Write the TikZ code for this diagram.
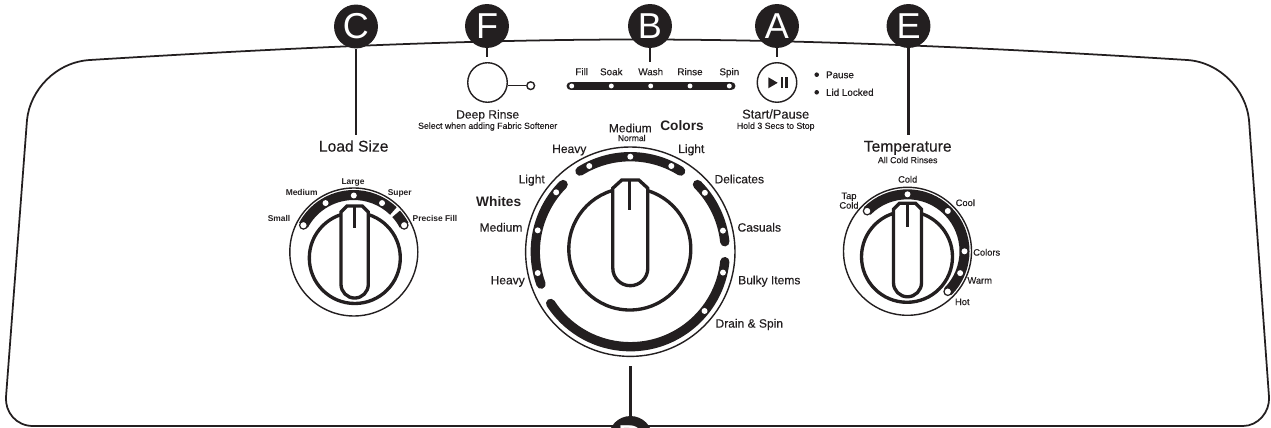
\documentclass[tikz,border=0pt]{standalone}
\usepackage{fontspec}
\setmainfont{Liberation Sans}
\newfontfamily\medfont{Liberation Sans}[RawFeature={embolden=0.35}]
\definecolor{inkblack}{HTML}{231F20}
\tikzset{
  badge/.style={circle, fill=inkblack, text=white, minimum size=25pt, inner sep=0pt, font=\fontsize{20.5}{20.5}\selectfont},
  lead/.style={line width=1.5pt, draw=inkblack},
  ring/.style={line width=0.8pt, draw=inkblack},
  knob/.style={line width=1.9pt, draw=inkblack, fill=white},
  band/.style={line width=5.7pt, draw=inkblack},
  pip/.style={circle, fill=white, inner sep=0pt, minimum size=3.4pt},
  pipo/.style={circle, fill=white, draw=inkblack, line width=0.7pt, inner sep=0pt, minimum size=4.4pt},
  dot/.style={circle, fill=inkblack, inner sep=0pt, minimum size=2.6pt},
  tagbase/.style={text=inkblack, inner sep=0pt, text depth=0pt},
  headtag/.style={tagbase, text height=6.4pt, font=\medfont\fontsize{8.9}{8.9}\selectfont},
  bigtag/.style={tagbase, text height=4.9pt, font=\medfont\fontsize{6.85}{6.85}\selectfont},
  midtag/.style={tagbase, text height=4pt, font=\medfont\fontsize{5.6}{5.6}\selectfont},
  smalltag/.style={tagbase, text height=3.8pt, font=\medfont\fontsize{5.3}{5.3}\selectfont},
  notetag/.style={tagbase, text height=3.6pt, font=\medfont\fontsize{5}{5}\selectfont},
  boldtag/.style={tagbase, text height=5.6pt, font=\bfseries\fontsize{7.8}{7.8}\selectfont},
  tinytag/.style={tagbase, text height=3.5pt, font=\bfseries\fontsize{4.8}{4.8}\selectfont},
}
\begin{document}
\begin{tikzpicture}[x=0.02cm, y=-0.02cm]
\useasboundingbox (0,0) rectangle (1271,428);

% panel
\draw [line width=1pt, draw=inkblack]
  (90,60) .. controls (300,47) and (480,39.5) .. (636,39.5)
  .. controls (800,39.5) and (980,47) .. (1187,60)
  .. controls (1220,62) and (1246,90) .. (1249,120)
  -- (1269,397)
  .. controls (1270,412) and (1258,426) .. (1243,426)
  -- (33,426)
  .. controls (16,426) and (5,412) .. (6,397)
  -- (27,120)
  .. controls (30,90) and (56,62) .. (90,60) -- cycle;

% badges
\node (badgeC) [badge] at (356,26.5) {C};
\node (badgeF) [badge] at (487,26) {F};
\node (badgeB) [badge] at (650,26) {B};
\node (badgeA) [badge] at (777,26) {A};
\node (badgeE) [badge] at (908.5,26) {E};
\node (badgeD) [badge] at (630.5,438) {D};

% lead ends
\coordinate (leadC) at (356,135);
\coordinate (leadF) at (487,57.5);
\coordinate (leadB) at (650,62);
\coordinate (leadA) at (777,57.5);
\coordinate (leadE) at (908.5,135);
\coordinate (leadD) at (630.5,366);
\foreach \name in {C,F,B,A,E,D}
  \draw [lead] (badge\name) -- (lead\name);

% deep rinse
\node (rinsebtn) [circle, ring, minimum size=22.5pt, inner sep=0pt] at (487.5,82.5) {};
\node (rinselamp) [circle, ring, minimum size=4.4pt, inner sep=0pt] at (530.7,85.7) {};
\draw [ring] (rinselamp) -- (rinselamp -| rinsebtn.east);
\node (rinsetag) [bigtag] at (487.7,114.3) {Deep Rinse};
\node (rinsenote) [notetag] at (487.7,125.7) {Select when adding Fabric Softener};

% cycle lamps
\coordinate (barleft) at (571,86);
\coordinate (barright) at (731,86);
\draw [line width=5.1pt, draw=inkblack, line cap=round] (barleft) -- (barright);
\foreach \name/\px in {fill/571.7, soak/611.3, wash/650.7, rinse/690, spin/729.3}
  \node (lamp\name) [pip, minimum size=2.8pt] at (\px,86) {};
\foreach \name/\px/\txt in {fill/581.7/Fill, soak/611.3/Soak, wash/650.7/Wash, rinse/690/Rinse, spin/729.3/Spin}
  \node (tag\name) [midtag] at (\px,71.7) {\txt};

% start button
\node (startbtn) [circle, ring, minimum size=22.5pt, inner sep=0pt] at (777,82.5) {};
\fill [inkblack] (768.3,77.3) -- (777.7,82.8) -- (768.3,88.3) -- cycle;
\fill [inkblack] (780.7,77.3) rectangle (783,88.3);
\fill [inkblack] (785.3,77.3) rectangle (787.6,88.3);
\node (starttag) [bigtag, font=\medfont\fontsize{7.3}{7.3}\selectfont] at (775.7,114.3) {Start/Pause};
\node (startnote) [notetag] at (775.7,125.7) {Hold 3 Secs to Stop};
\node (pausedot) [dot] at (816.7,74.7) {};
\node (lockdot) [dot] at (816.7,92.3) {};
\node (pausetag) [midtag, anchor=west] at (825.7,74.7) {Pause};
\node (locktag) [midtag, anchor=west] at (825.7,92.3) {Lid Locked};

% load size dial
\begin{scope}[shift={(353.8,252)}, y=0.02cm]
  \draw [ring] (0,0) circle [radius=64];
  \draw [band] (152:57) arc [start angle=152, end angle=46, radius=57];
  \draw [band] (42:57) arc [start angle=42, end angle=28, radius=57];
  \foreach \ang [count=\i] in {120,90,60}
    \node (loadpip\i) [pip] at (\ang:56.5) {};
  \node (loadsmall) [pipo] at (152:57) {};
  \node (loadfill) [pipo] at (28:57) {};
  \draw [knob] (1,-6) circle [radius=45.5];
  \draw [knob] (-12.8,20) -- (-12.8,-32.4) arc [start angle=180, end angle=360, radius=13.65]
    -- (14.5,20) -- (14.5,40) -- (8.5,46) -- (-6.8,46) -- (-12.8,40) -- cycle;
  \draw [knob] (0.5,46) -- (0.5,24);
\end{scope}
\node (loadhead) [headtag] at (353.7,146) {Load Size};
\foreach \name/\px/\py/\txt in {a/279/218/Small, b/301.7/192/Medium, c/353/181.3/Large, d/399.7/192/Super, e/435/218/Precise Fill}
  \node (loadtag\name) [tinytag] at (\px,\py) {\txt};

% cycle dial
\begin{scope}[shift={(630.3,251.7)}, y=0.02cm]
  \draw [ring] (0,0) circle [radius=104.7];
  \begin{scope}[line cap=round, band/.append style={line width=5.3pt}]
    \draw [band] (122:95) arc [start angle=122, end angle=58, radius=95];
    \draw [band] (45:95) arc [start angle=45, end angle=6, radius=95];
    \draw [band] (-6:95) arc [start angle=-6, end angle=-147, radius=95];
    \draw [band] (135:95) arc [start angle=135, end angle=200, radius=95];
  \end{scope}
  \foreach \ang [count=\i] in {115.6,90,64.4,38.3,12.8,-12.7,-38.6,141.3,167,193}
    \node (mainpip\i) [pip] at (\ang:95) {};
  \draw [knob] (-0.5,2.7) circle [radius=61];
  \draw [knob] (-17.5,15) -- (-17.5,-16.5) arc [start angle=180, end angle=360, radius=17.5]
    -- (17.5,15) -- (17.5,63.5) -- (8.5,71.7) -- (-8.5,71.7) -- (-17.5,63.5) -- cycle;
  \draw [knob] (-0.5,71.7) -- (-0.5,41.7);
\end{scope}
\foreach \name/\px/\py/\txt in {a/630.3/128/Medium, b/569.3/148.7/Heavy, c/691.3/148.7/Light, d/531.7/179/Light,
    e/739.3/179/Delicates, f/501/227.3/Medium, g/759.3/227.3/Casuals, h/507.7/280/Heavy,
    i/769.3/280/Bulky Items, j/749.3/323.3/Drain \& Spin}
  \node (maintag\name) [bigtag] at (\px,\py) {\txt};
\node (normaltag) [tinytag, font=\medfont\fontsize{4.9}{4.9}\selectfont] at (631.7,138) {Normal};
\node (colorstag) [boldtag] at (682,126) {Colors};
\node (whitestag) [boldtag] at (498.7,202) {Whites};

% temperature dial
\begin{scope}[shift={(907.5,251.3)}, y=0.02cm]
  \draw [ring] (0,0) circle [radius=64];
  \draw [band] (135:57) arc [start angle=135, end angle=-45, radius=57];
  \foreach \ang [count=\i] in {90,45,0,-22.5}
    \node (temppip\i) [pip] at (\ang:57) {};
  \node (temptap) [pipo] at (135:57) {};
  \node (temphot) [pipo] at (-45:57) {};
  \draw [knob] (-0.5,-5.5) circle [radius=45.5];
  \draw [knob] (-14,20) -- (-14,-31.5) arc [start angle=180, end angle=360, radius=14]
    -- (14,20) -- (14,42) -- (8,48) -- (-8,48) -- (-14,42) -- cycle;
  \draw [knob] (0,48) -- (0,24.5);
\end{scope}
\node (temphead) [headtag] at (907.7,146) {Temperature};
\node (tempnote) [notetag] at (907.7,160) {All Cold Rinses};
\foreach \name/\px/\py/\txt in {a/907.7/179.3/Cold, b/849/195.7/Tap, c/849/205.3/Cold, d/965.3/202.7/Cool,
    e/986.7/252.3/Colors, f/979.7/280.3/Warm, g/962.3/301.7/Hot}
  \node (temptag\name) [smalltag] at (\px,\py) {\txt};
\end{tikzpicture}
\end{document}
